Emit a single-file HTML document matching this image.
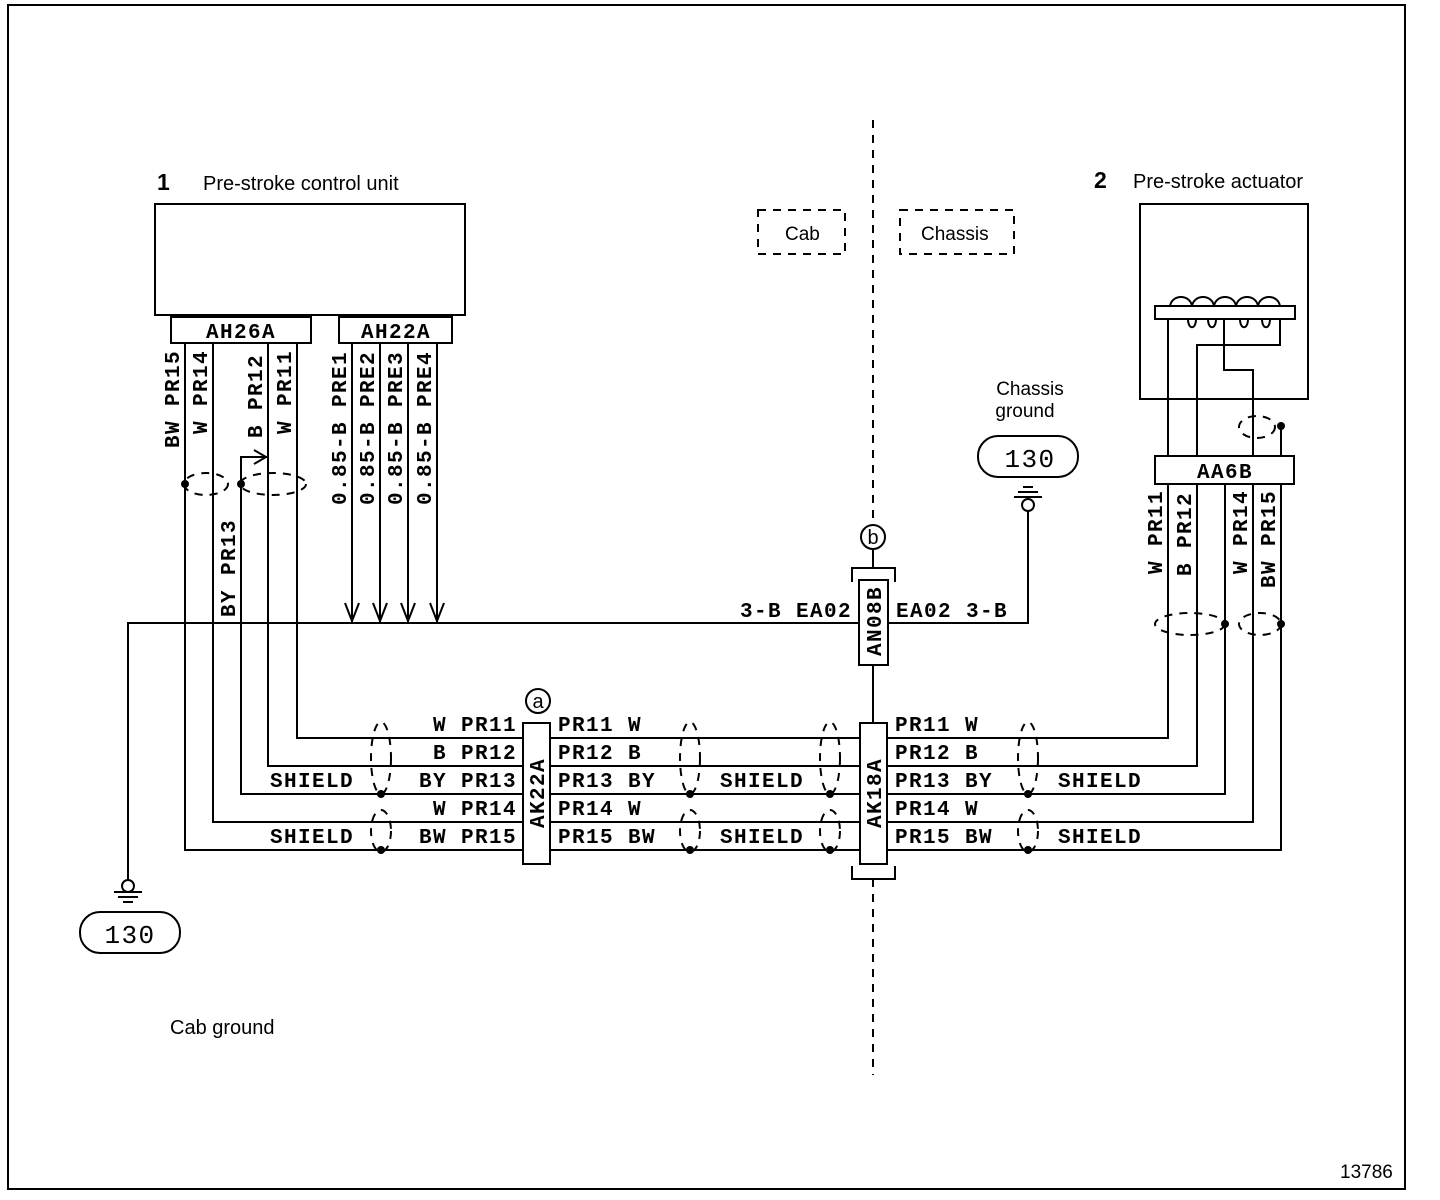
<!DOCTYPE html>
<html><head><meta charset="utf-8"><style>
html,body{margin:0;padding:0;background:#fff}
svg{display:block}
.m{font-family:"Liberation Mono",monospace;font-size:21px;letter-spacing:1.4px;fill:#000;font-weight:bold}
.s{font-family:"Liberation Sans",sans-serif;fill:#000}
</style></head><body>
<svg width="1440" height="1200" viewBox="0 0 1440 1200" xmlns="http://www.w3.org/2000/svg">
<rect x="8" y="5" width="1397" height="1184" fill="none" stroke="#000" stroke-width="2"/>
<g stroke="#000" stroke-width="2" fill="none">
<rect x="155" y="204" width="310" height="111"/>
<rect x="171" y="317" width="140" height="26"/>
<rect x="339" y="317" width="113" height="26"/>
<polyline points="185,343 185,850 523,850"/>
<polyline points="213,343 213,822 523,822"/>
<polyline points="268,343 268,766 523,766"/>
<polyline points="297,343 297,738 523,738"/>
<polyline points="268,457 241,457 241,794 523,794"/>
<polyline points="254,450 266,457 254,464"/>
<line x1="352" y1="343" x2="352" y2="623"/>
<line x1="380" y1="343" x2="380" y2="623"/>
<line x1="408" y1="343" x2="408" y2="623"/>
<line x1="437" y1="343" x2="437" y2="623"/>
<polyline points="345,603 352,621 359,603"/>
<polyline points="373,603 380,621 387,603"/>
<polyline points="401,603 408,621 415,603"/>
<polyline points="430,603 437,621 444,603"/>
<polyline points="128,880 128,623 858,623"/>
<polyline points="888,623 1028,623 1028,511"/>
<line x1="550" y1="738" x2="860" y2="738"/>
<line x1="550" y1="766" x2="860" y2="766"/>
<line x1="550" y1="794" x2="860" y2="794"/>
<line x1="550" y1="822" x2="860" y2="822"/>
<line x1="550" y1="850" x2="860" y2="850"/>
<polyline points="887,738 1168,738 1168,484"/>
<polyline points="887,766 1197,766 1197,484"/>
<polyline points="887,794 1225,794 1225,484"/>
<polyline points="887,822 1253,822 1253,484"/>
<polyline points="887,850 1281,850 1281,484"/>
<rect x="523" y="723" width="27" height="141" fill="#fff"/>
<rect x="860" y="723" width="27" height="141" fill="#fff"/>
<rect x="859" y="580" width="29" height="85" fill="#fff"/>
<polyline points="852,582 852,568 895,568 895,582"/>
<polyline points="852,866 852,879 895,879 895,866"/>
<circle cx="538" cy="701" r="12"/>
<circle cx="873" cy="537" r="12"/>
<line x1="873" y1="549" x2="873" y2="568"/>
<line x1="873" y1="665" x2="873" y2="723"/>
<rect x="1140" y="204" width="168" height="195"/>
<rect x="1155" y="306" width="140" height="13"/>
<line x1="1168" y1="319" x2="1168" y2="456"/>
<polyline points="1197,456 1197,345 1280,345 1280,319"/>
<polyline points="1253,456 1253,370 1224,370 1224,319"/>
<line x1="1281" y1="426" x2="1281" y2="456"/>
<rect x="1155" y="456" width="139" height="28"/>
<path d="M1170,306 C1172,294 1190,294 1192,306 M1192,306 C1194,294 1212,294 1214,306 M1214,306 C1216,294 1234,294 1236,306 M1236,306 C1238,294 1256,294 1258,306 M1258,306 C1260,294 1278,294 1280,306"/>
<path d="M1188,319 C1188,330 1196,330 1196,319 M1208,319 C1208,330 1216,330 1216,319 M1240,319 C1240,330 1248,330 1248,319 M1262,319 C1262,330 1270,330 1270,319"/>
<circle cx="128" cy="886" r="6"/>
<line x1="114" y1="892" x2="142" y2="892"/>
<line x1="118" y1="897" x2="138" y2="897"/>
<line x1="123" y1="902" x2="133" y2="902"/>
<rect x="80" y="912" width="100" height="41" rx="20"/>
<circle cx="1028" cy="505" r="6"/>
<line x1="1014" y1="497" x2="1042" y2="497"/>
<line x1="1018" y1="492" x2="1038" y2="492"/>
<line x1="1023" y1="487" x2="1033" y2="487"/>
<rect x="978" y="436" width="100" height="41" rx="20"/>
</g>
<g stroke="#000" stroke-width="2" fill="none" stroke-dasharray="8,7">
<line x1="873" y1="120" x2="873" y2="525"/>
<line x1="873" y1="879" x2="873" y2="1075"/>
<rect x="758" y="210" width="87" height="44"/>
<rect x="900" y="210" width="114" height="44"/>
<ellipse cx="206" cy="484" rx="22" ry="11"/>
<ellipse cx="273" cy="484" rx="33" ry="11"/>
<ellipse cx="1257" cy="427" rx="18" ry="11"/>
<ellipse cx="1190" cy="624" rx="35" ry="11"/>
<ellipse cx="1260" cy="624" rx="21" ry="11"/>
<ellipse cx="381" cy="758" rx="10" ry="36"/>
<ellipse cx="381" cy="831" rx="10" ry="21"/>
<ellipse cx="690" cy="758" rx="10" ry="36"/>
<ellipse cx="690" cy="831" rx="10" ry="21"/>
<ellipse cx="830" cy="758" rx="10" ry="36"/>
<ellipse cx="830" cy="831" rx="10" ry="21"/>
<ellipse cx="1028" cy="758" rx="10" ry="36"/>
<ellipse cx="1028" cy="831" rx="10" ry="21"/>
</g>
<g fill="#000">
<circle cx="185" cy="484" r="4"/><circle cx="241" cy="484" r="4"/>
<circle cx="1281" cy="426" r="4"/><circle cx="1225" cy="624" r="4"/><circle cx="1281" cy="624" r="4"/>
<circle cx="381" cy="794" r="4"/><circle cx="381" cy="850" r="4"/>
<circle cx="690" cy="794" r="4"/><circle cx="690" cy="850" r="4"/>
<circle cx="830" cy="794" r="4"/><circle cx="830" cy="850" r="4"/>
<circle cx="1028" cy="794" r="4"/><circle cx="1028" cy="850" r="4"/>
</g>
<text class="s" x="157" y="190" font-size="23" font-weight="bold">1</text>
<text class="s" x="203" y="190" font-size="20">Pre-stroke control unit</text>
<text class="s" x="1094" y="188" font-size="23" font-weight="bold">2</text>
<text class="s" x="1133" y="188" font-size="20">Pre-stroke actuator</text>
<text class="s" x="785" y="240" font-size="19">Cab</text>
<text class="s" x="921" y="240" font-size="19">Chassis</text>
<text class="s" x="1030" y="395" font-size="19" text-anchor="middle">Chassis</text>
<text class="s" x="1025" y="417" font-size="19" text-anchor="middle">ground</text>
<text class="s" x="170" y="1034" font-size="20">Cab ground</text>
<text class="s" x="1340" y="1178" font-size="19">13786</text>
<text class="s" x="538" y="708" font-size="20" text-anchor="middle">a</text>
<text class="s" x="873" y="544" font-size="20" text-anchor="middle">b</text>
<g class="m">
<text x="241" y="338" text-anchor="middle">AH26A</text>
<text x="396" y="338" text-anchor="middle">AH22A</text>
<text x="1225" y="478" text-anchor="middle">AA6B</text>
<text x="130" y="943" text-anchor="middle" font-size="26" font-weight="normal">130</text>
<text x="1030" y="467" text-anchor="middle" font-size="26" font-weight="normal">130</text>
<text transform="translate(179,448) rotate(-90)">BW PR15</text>
<text transform="translate(207,434) rotate(-90)">W PR14</text>
<text transform="translate(262,438) rotate(-90)">B PR12</text>
<text transform="translate(291,434) rotate(-90)">W PR11</text>
<text transform="translate(235,617) rotate(-90)">BY PR13</text>
<text transform="translate(346,505) rotate(-90)">0.85-B PRE1</text>
<text transform="translate(374,505) rotate(-90)">0.85-B PRE2</text>
<text transform="translate(402,505) rotate(-90)">0.85-B PRE3</text>
<text transform="translate(431,505) rotate(-90)">0.85-B PRE4</text>
<text transform="translate(1162,574) rotate(-90)">W PR11</text>
<text transform="translate(1191,576) rotate(-90)">B PR12</text>
<text transform="translate(1247,574) rotate(-90)">W PR14</text>
<text transform="translate(1275,588) rotate(-90)">BW PR15</text>
<text transform="translate(544,828) rotate(-90)">AK22A</text>
<text transform="translate(881,828) rotate(-90)">AK18A</text>
<text transform="translate(881,656) rotate(-90)">AN08B</text>
<text x="852" y="617" text-anchor="end">3-B EA02</text>
<text x="896" y="617">EA02 3-B</text>
<g text-anchor="end">
<text x="517" y="731">W PR11</text>
<text x="517" y="759">B PR12</text>
<text x="517" y="787">BY PR13</text>
<text x="517" y="815">W PR14</text>
<text x="517" y="843">BW PR15</text>
</g>
<text x="270" y="787">SHIELD</text>
<text x="270" y="843">SHIELD</text>
<text x="558" y="731">PR11 W</text>
<text x="558" y="759">PR12 B</text>
<text x="558" y="787">PR13 BY</text>
<text x="558" y="815">PR14 W</text>
<text x="558" y="843">PR15 BW</text>
<text x="720" y="787">SHIELD</text>
<text x="720" y="843">SHIELD</text>
<text x="895" y="731">PR11 W</text>
<text x="895" y="759">PR12 B</text>
<text x="895" y="787">PR13 BY</text>
<text x="895" y="815">PR14 W</text>
<text x="895" y="843">PR15 BW</text>
<text x="1058" y="787">SHIELD</text>
<text x="1058" y="843">SHIELD</text>
</g>
</svg>
</body></html>
